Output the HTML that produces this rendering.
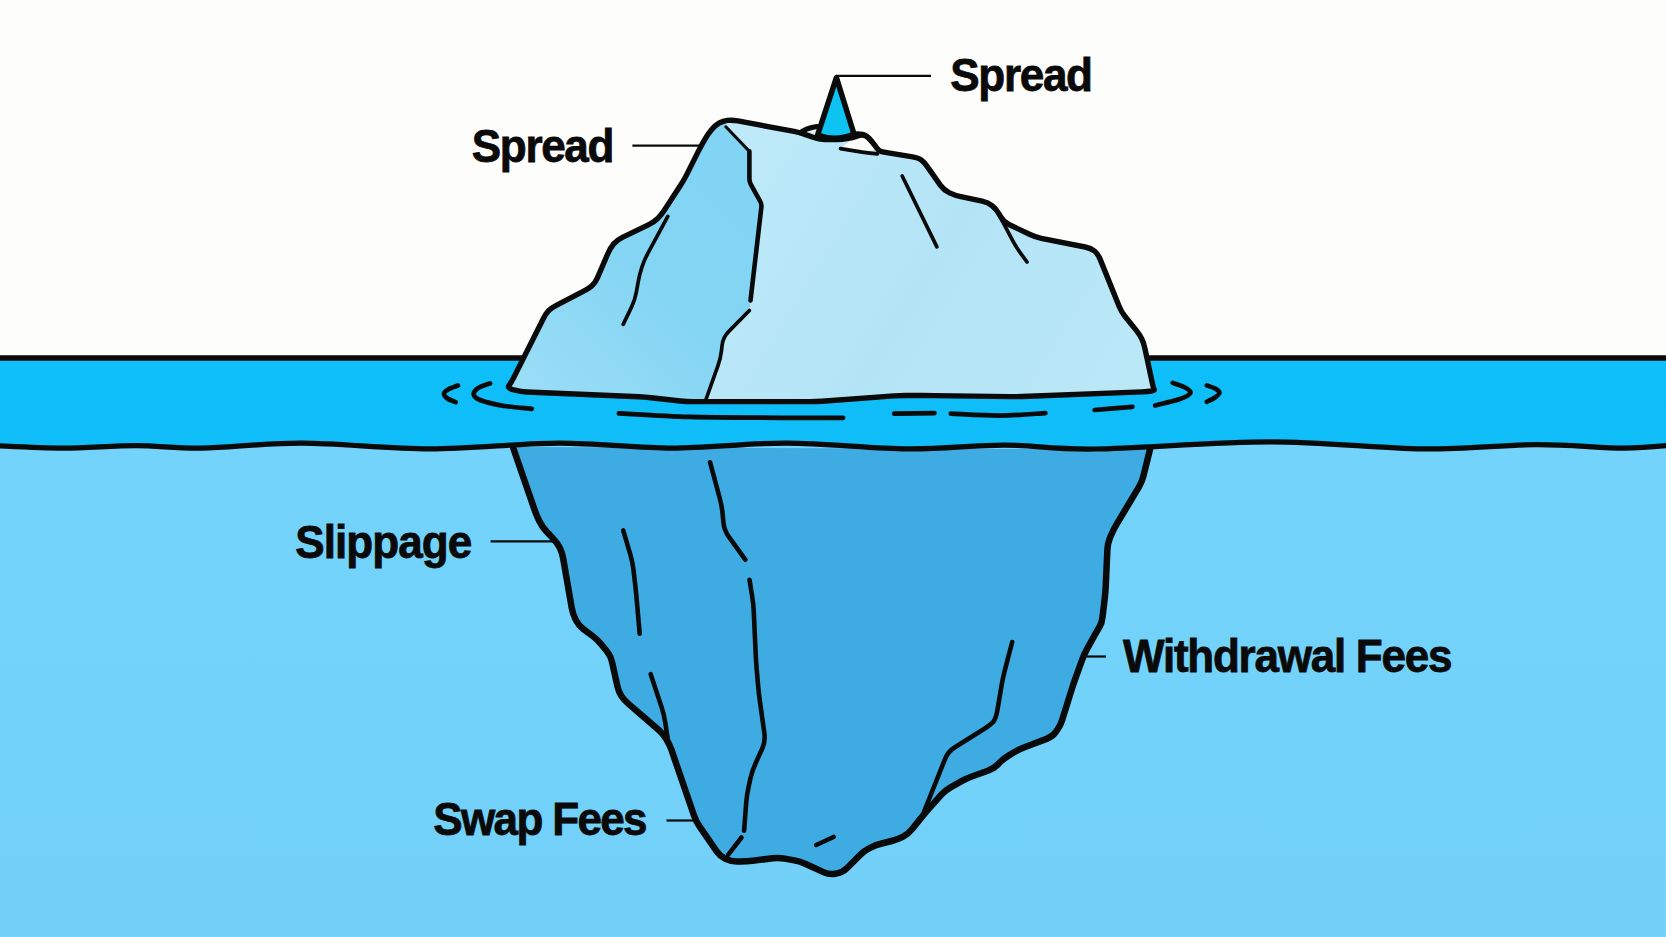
<!DOCTYPE html>
<html><head><meta charset="utf-8"><style>
html,body{margin:0;padding:0;width:1666px;height:937px;overflow:hidden;background:#fdfdfb;font-family:"Liberation Sans",sans-serif}
svg{display:block}
</style></head><body>
<svg width="1666" height="937" viewBox="0 0 1666 937">
<defs>
 <linearGradient id="gUnder" x1="0" y1="0" x2="0" y2="1">
  <stop offset="0" stop-color="#73d3fb"/><stop offset="1" stop-color="#73d1f9"/>
 </linearGradient>
 <linearGradient id="gLeft" x1="520" y1="390" x2="745" y2="170" gradientUnits="userSpaceOnUse">
  <stop offset="0" stop-color="#9bddf6"/><stop offset="0.55" stop-color="#84d5f4"/><stop offset="1" stop-color="#82d4f4"/>
 </linearGradient>
 <linearGradient id="gRight" x1="760" y1="150" x2="1150" y2="390" gradientUnits="userSpaceOnUse">
  <stop offset="0" stop-color="#bde9f8"/><stop offset="0.45" stop-color="#b3e4f6"/><stop offset="1" stop-color="#bbe8f7"/>
 </linearGradient>
 <linearGradient id="gBand" x1="0" y1="0" x2="0" y2="1">
  <stop offset="0" stop-color="#0ebff9"/><stop offset="1" stop-color="#10bdf8"/>
 </linearGradient>
</defs>
<rect x="0" y="0" width="1666" height="937" fill="#fdfdfb"/>
<rect x="0" y="440" width="1666" height="497" fill="url(#gUnder)"/>
<path d="M-10,358 L1676,358 L1676,444.8 1676.0,444.8 C1667.3,445.4 1647.3,448.1 1624.0,448.1 C1600.7,448.1 1569.7,444.5 1536.0,444.6 C1502.3,444.7 1466.3,449.4 1422.0,448.9 C1377.7,448.4 1324.5,441.8 1270.0,441.8 C1215.5,441.8 1139.3,448.4 1095.0,449.0 C1050.7,449.6 1035.2,445.1 1004.0,445.1 C972.8,445.1 944.3,449.2 908.0,448.9 C871.7,448.6 825.3,443.2 786.0,443.1 C746.7,443.0 709.8,448.1 672.0,448.1 C634.2,448.1 599.3,443.0 559.0,443.1 C518.7,443.2 472.8,448.9 430.0,448.9 C387.2,448.9 340.0,443.2 302.0,443.1 C264.0,443.0 229.7,447.7 202.0,448.1 C174.3,448.5 159.2,445.6 136.0,445.6 C112.8,445.6 87.3,448.1 63.0,448.1 C38.7,448.1 2.2,445.9 -10.0,445.5 Z" fill="url(#gBand)"/>
<path d="M518.9,447.0 Q512.9,447.0 514.9,452.7 L534.4,509.4 Q536.4,515.1 539.0,520.5 L539.6,521.5 Q542.2,526.9 546.3,531.3 L553.4,538.9 Q557.5,543.3 559.9,548.0 L559.9,548.0 Q562.2,552.7 563.2,558.6 L571.7,607.8 Q572.7,613.7 575.4,619.1 L575.9,620.1 Q578.6,625.5 583.4,629.1 L592.6,636.0 Q597.4,639.6 601.2,644.3 L606.9,651.3 Q610.7,656.0 612.0,661.9 L617.4,686.1 Q618.7,692.0 621.4,696.0 L621.4,696.0 Q624.0,700.0 628.5,703.9 L658.2,729.5 Q662.7,733.4 665.9,738.5 L666.2,738.9 Q669.4,744.0 671.4,749.7 L694.1,815.8 Q696.1,821.5 699.5,826.4 L716.7,851.3 Q720.1,856.2 725.5,858.9 L725.5,858.9 Q730.8,861.5 736.8,861.5 L740.8,861.5 Q746.8,861.5 752.8,860.8 L772.8,858.2 Q778.8,857.5 784.7,858.6 L794.3,860.4 Q800.2,861.5 805.7,864.0 L824.0,872.4 Q829.5,874.9 835.4,873.7 L837.0,873.4 Q842.9,872.2 847.1,867.9 L860.0,855.1 Q864.2,850.8 869.6,848.1 L870.6,847.6 Q876.0,844.9 881.8,843.5 L891.6,841.0 Q897.4,839.6 902.7,836.9 L902.7,836.9 Q908.0,834.2 911.8,829.5 L920.3,818.9 Q924.1,814.2 928.1,809.7 L941.4,794.7 Q945.4,790.2 950.6,787.3 L961.6,781.1 Q966.8,778.2 972.5,776.2 L987.8,770.8 Q993.5,768.8 997.7,764.6 L1000.0,762.3 Q1004.2,758.1 1009.4,755.1 L1015.0,751.8 Q1020.2,748.8 1025.8,746.7 L1046.6,738.9 Q1052.2,736.8 1055.8,732.0 L1056.6,730.9 Q1060.2,726.1 1062.0,720.4 L1071.8,689.1 Q1073.6,683.4 1075.6,677.8 L1082.2,659.6 Q1084.2,654.0 1087.1,648.8 L1094.7,635.2 Q1097.6,630.0 1099.7,626.5 L1099.7,626.5 Q1101.8,623.1 1102.5,617.1 L1104.7,598.6 Q1105.4,592.6 1105.7,586.6 L1107.4,549.3 Q1107.7,543.3 1110.0,537.8 L1111.3,534.7 Q1113.6,529.2 1116.7,524.1 L1138.7,487.4 Q1141.8,482.3 1143.3,476.5 L1148.5,455.2 Q1150.0,449.4 1144.0,449.4 Z" fill="#3eace2"/>
<path d="M623.2,530.4 L630.3,554.4 Q632.6,562.1 633.5,570.0 L635.2,584.7 Q636.1,592.6 636.8,600.6 L639.7,633.7" fill="none" stroke="#0a0a0a" stroke-width="4.6" stroke-linecap="round" stroke-linejoin="round"/><path d="M710.1,462.3 L719.7,498.0 Q721.8,505.7 722.6,513.7 L723.4,522.4 Q724.2,530.4 728.9,536.9 L745.3,559.7" fill="none" stroke="#0a0a0a" stroke-width="4.6" stroke-linecap="round" stroke-linejoin="round"/><path d="M749.5,579.7 L752.2,596.5 Q753.5,604.4 753.8,612.4 L755.6,652.0 Q755.9,660.0 756.6,668.0 L758.1,685.4 Q758.8,693.4 759.9,701.3 L764.4,733.5 Q765.5,741.4 762.2,748.7 L755.5,763.5 Q752.2,770.8 750.4,778.6 L748.6,787.0 Q746.8,794.8 746.2,802.8 L744.1,830.8" fill="none" stroke="#0a0a0a" stroke-width="4.6" stroke-linecap="round" stroke-linejoin="round"/><path d="M741.5,837.5 L728.1,854.8" fill="none" stroke="#0a0a0a" stroke-width="4.6" stroke-linecap="round" stroke-linejoin="round"/><path d="M816.2,845.0 L833.6,837.0" fill="none" stroke="#0a0a0a" stroke-width="4.6" stroke-linecap="round" stroke-linejoin="round"/><path d="M650.7,674.2 L661.6,707.1 Q664.1,714.7 665.3,722.6 L668.1,741.4" fill="none" stroke="#0a0a0a" stroke-width="4.6" stroke-linecap="round" stroke-linejoin="round"/><path d="M1012.2,642.0 L1004.8,670.3 Q1002.8,678.0 1001.5,685.9 L997.4,710.2 Q996.1,718.1 993.5,721.5 L993.5,721.5 Q990.8,724.8 984.0,729.0 L954.9,747.3 Q948.1,751.5 945.1,758.9 L924.1,811.5" fill="none" stroke="#0a0a0a" stroke-width="4.6" stroke-linecap="round" stroke-linejoin="round"/><path d="M512.9,447.0 L534.4,509.4 Q536.4,515.1 539.0,520.5 L539.6,521.5 Q542.2,526.9 546.3,531.3 L553.4,538.9 Q557.5,543.3 559.9,548.0 L559.9,548.0 Q562.2,552.7 563.2,558.6 L571.7,607.8 Q572.7,613.7 575.4,619.1 L575.9,620.1 Q578.6,625.5 583.4,629.1 L592.6,636.0 Q597.4,639.6 601.2,644.3 L606.9,651.3 Q610.7,656.0 612.0,661.9 L617.4,686.1 Q618.7,692.0 621.4,696.0 L621.4,696.0 Q624.0,700.0 628.5,703.9 L658.2,729.5 Q662.7,733.4 665.9,738.5 L666.2,738.9 Q669.4,744.0 671.4,749.7 L694.1,815.8 Q696.1,821.5 699.5,826.4 L716.7,851.3 Q720.1,856.2 725.5,858.9 L725.5,858.9 Q730.8,861.5 736.8,861.5 L740.8,861.5 Q746.8,861.5 752.8,860.8 L772.8,858.2 Q778.8,857.5 784.7,858.6 L794.3,860.4 Q800.2,861.5 805.7,864.0 L824.0,872.4 Q829.5,874.9 835.4,873.7 L837.0,873.4 Q842.9,872.2 847.1,867.9 L860.0,855.1 Q864.2,850.8 869.6,848.1 L870.6,847.6 Q876.0,844.9 881.8,843.5 L891.6,841.0 Q897.4,839.6 902.7,836.9 L902.7,836.9 Q908.0,834.2 911.8,829.5 L920.3,818.9 Q924.1,814.2 928.1,809.7 L941.4,794.7 Q945.4,790.2 950.6,787.3 L961.6,781.1 Q966.8,778.2 972.5,776.2 L987.8,770.8 Q993.5,768.8 997.7,764.6 L1000.0,762.3 Q1004.2,758.1 1009.4,755.1 L1015.0,751.8 Q1020.2,748.8 1025.8,746.7 L1046.6,738.9 Q1052.2,736.8 1055.8,732.0 L1056.6,730.9 Q1060.2,726.1 1062.0,720.4 L1071.8,689.1 Q1073.6,683.4 1075.6,677.8 L1082.2,659.6 Q1084.2,654.0 1087.1,648.8 L1094.7,635.2 Q1097.6,630.0 1099.7,626.5 L1099.7,626.5 Q1101.8,623.1 1102.5,617.1 L1104.7,598.6 Q1105.4,592.6 1105.7,586.6 L1107.4,549.3 Q1107.7,543.3 1110.0,537.8 L1111.3,534.7 Q1113.6,529.2 1116.7,524.1 L1138.7,487.4 Q1141.8,482.3 1143.3,476.5 L1150.0,449.4" fill="none" stroke="#0a0a0a" stroke-width="6.5" stroke-linecap="round" stroke-linejoin="round"/><path d="M-10,358 L1676,358" stroke="#0a0a0a" stroke-width="5.5"/><path d="M-10.0,445.5 C2.2,445.9 38.7,448.1 63.0,448.1 C87.3,448.1 112.8,445.6 136.0,445.6 C159.2,445.6 174.3,448.5 202.0,448.1 C229.7,447.7 264.0,443.0 302.0,443.1 C340.0,443.2 387.2,448.9 430.0,448.9 C472.8,448.9 518.7,443.2 559.0,443.1 C599.3,443.0 634.2,448.1 672.0,448.1 C709.8,448.1 746.7,443.0 786.0,443.1 C825.3,443.2 871.7,448.6 908.0,448.9 C944.3,449.2 972.8,445.1 1004.0,445.1 C1035.2,445.1 1050.7,449.6 1095.0,449.0 C1139.3,448.4 1215.5,441.8 1270.0,441.8 C1324.5,441.8 1377.7,448.4 1422.0,448.9 C1466.3,449.4 1502.3,444.7 1536.0,444.6 C1569.7,444.5 1600.7,448.1 1624.0,448.1 C1647.3,448.1 1667.3,445.4 1676.0,444.8" fill="none" stroke="#0a0a0a" stroke-width="5.2"/><path d="M458.0,385.5 C456.5,386.1 451.3,387.7 449.0,389.0 C446.7,390.3 444.2,391.9 444.0,393.5 C443.8,395.1 445.6,397.1 447.5,398.5 C449.4,399.9 454.3,401.5 455.7,402.1" fill="none" stroke="#0a0a0a" stroke-width="4.7" stroke-linecap="round" stroke-linejoin="round"/><path d="M490.0,383.4 C488.2,384.1 481.7,385.8 479.0,387.5 C476.3,389.2 474.0,391.7 473.7,393.5 C473.4,395.3 474.9,397.1 477.0,398.5 C479.1,399.9 481.5,400.8 486.0,402.0 C490.5,403.2 496.4,404.9 504.0,406.0 C511.6,407.1 527.2,408.3 531.8,408.8" fill="none" stroke="#0a0a0a" stroke-width="4.7" stroke-linecap="round" stroke-linejoin="round"/><path d="M618.9,413.3 C630.8,413.9 663.1,416.1 690.0,416.9 C716.9,417.6 754.5,417.6 780.0,417.8 C805.5,418.0 832.6,417.8 843.1,417.8" fill="none" stroke="#0a0a0a" stroke-width="4.7" stroke-linecap="round" stroke-linejoin="round"/><path d="M894.2,413.6 C900.9,413.5 927.8,413.2 934.5,413.1" fill="none" stroke="#0a0a0a" stroke-width="4.7" stroke-linecap="round" stroke-linejoin="round"/><path d="M950.9,413.6 C959.1,413.9 984.2,415.7 1000.0,415.6 C1015.8,415.5 1037.8,413.5 1045.4,413.1" fill="none" stroke="#0a0a0a" stroke-width="4.7" stroke-linecap="round" stroke-linejoin="round"/><path d="M1094.6,410.0 C1100.9,409.5 1126.1,407.3 1132.4,406.8" fill="none" stroke="#0a0a0a" stroke-width="4.7" stroke-linecap="round" stroke-linejoin="round"/><path d="M1155.1,405.5 C1159.2,404.4 1174.1,401.1 1180.0,399.0 C1185.9,396.9 1189.7,395.0 1190.4,393.0 C1191.1,391.0 1187.0,388.7 1184.0,387.0 C1181.0,385.3 1174.6,383.6 1172.7,382.9" fill="none" stroke="#0a0a0a" stroke-width="4.7" stroke-linecap="round" stroke-linejoin="round"/><path d="M1206.8,385.4 C1208.3,386.0 1213.9,387.7 1216.0,389.0 C1218.1,390.3 1219.6,391.6 1219.4,393.0 C1219.2,394.4 1217.1,396.0 1215.0,397.5 C1212.9,399.0 1208.2,401.1 1206.8,401.8" fill="none" stroke="#0a0a0a" stroke-width="4.7" stroke-linecap="round" stroke-linejoin="round"/><path d="M512.8,389.6 Q507.0,388.0 509.0,385.5 L509.0,385.5 Q511.0,383.0 513.7,377.6 L543.0,319.2 Q545.7,313.8 548.4,310.9 L548.4,310.9 Q551.0,308.0 556.3,305.3 L582.7,291.7 Q588.0,289.0 591.5,286.1 L591.5,286.1 Q595.0,283.3 597.4,277.8 L607.9,253.5 Q610.3,248.0 613.6,244.0 L613.6,244.0 Q617.0,240.0 622.4,237.4 L648.3,224.9 Q653.7,222.3 657.4,218.8 L657.4,218.8 Q661.0,215.2 664.3,210.2 L680.7,185.0 Q684.0,180.0 686.7,174.6 L698.3,151.4 Q701.0,146.0 704.0,140.8 L705.0,139.2 Q708.0,134.0 711.5,129.8 L711.5,129.8 Q715.0,125.5 719.0,123.2 L719.0,123.2 Q723.0,121.0 727.5,120.4 L727.5,120.4 Q732.0,119.8 737.9,120.9 L794.1,131.4 Q800.0,132.5 805.6,134.6 L813.1,137.2 Q818.7,139.3 824.7,139.5 L830.0,139.6 Q836.0,139.8 842.0,139.2 L847.0,138.6 Q853.0,138.0 857.5,136.0 L857.5,136.0 Q862.0,134.0 865.5,135.8 L865.5,135.8 Q869.0,137.5 872.5,142.4 L874.0,144.3 Q877.5,149.2 879.2,150.4 L879.2,150.4 Q881.0,151.6 886.9,152.6 L912.6,156.8 Q918.5,157.8 921.2,159.9 L921.2,159.9 Q924.0,162.0 927.5,166.9 L940.3,185.1 Q943.8,190.0 949.2,192.6 L949.6,192.9 Q955.0,195.5 960.9,196.7 L982.1,201.2 Q988.0,202.4 992.3,205.9 L992.3,205.9 Q996.6,209.4 999.5,214.7 L1000.6,216.6 Q1003.5,221.9 1008.9,224.5 L1030.0,234.5 Q1035.4,237.1 1041.3,238.3 L1085.1,247.0 Q1091.0,248.2 1094.5,251.0 L1094.5,251.0 Q1097.9,253.8 1100.2,259.4 L1119.2,306.4 Q1121.5,312.0 1125.3,316.7 L1135.7,329.6 Q1139.5,334.3 1141.6,338.5 L1141.6,338.5 Q1143.7,342.6 1144.9,348.5 L1152.2,382.5 Q1153.4,388.4 1154.2,389.4 L1154.2,389.4 Q1155.0,390.4 1151.5,391.0 L1151.5,391.0 Q1148.0,391.7 1142.0,391.9 L1022.5,396.5 Q1016.5,396.7 1010.5,396.6 L934.2,395.6 Q928.2,395.5 922.2,395.5 L906.0,395.5 Q900.0,395.5 894.0,395.9 L822.0,401.2 Q816.0,401.6 810.0,401.6 L711.4,401.6 Q705.4,401.6 699.4,401.6 L692.4,401.6 Q686.4,401.6 680.4,401.0 L651.0,397.7 Q645.0,397.1 639.0,396.8 L526.8,392.0 Q520.8,391.7 515.0,390.1 Z" fill="url(#gRight)"/><path d="M706.4,398.8 Q705.4,401.6 702.4,401.6 L689.4,401.6 Q686.4,401.6 683.4,401.3 L648.0,397.4 Q645.0,397.1 642.0,397.0 L523.8,391.8 Q520.8,391.7 517.9,390.9 L509.9,388.8 Q507.0,388.0 508.9,385.7 L509.1,385.3 Q511.0,383.0 512.3,380.3 L544.4,316.5 Q545.7,313.8 547.7,311.6 L549.0,310.2 Q551.0,308.0 553.7,306.6 L585.3,290.4 Q588.0,289.0 590.3,287.1 L592.7,285.2 Q595.0,283.3 596.2,280.5 L609.1,250.8 Q610.3,248.0 612.2,245.7 L615.1,242.3 Q617.0,240.0 619.7,238.7 L651.0,223.6 Q653.7,222.3 655.9,220.2 L658.8,217.3 Q661.0,215.2 662.6,212.7 L682.4,182.5 Q684.0,180.0 685.3,177.3 L699.7,148.7 Q701.0,146.0 702.5,143.4 L706.5,136.6 Q708.0,134.0 709.9,131.7 L713.1,127.8 Q715.0,125.5 717.6,124.0 L720.4,122.5 Q723.0,121.0 724.4,122.5 L724.4,122.5 Q725.8,124.0 727.8,126.3 L747.4,149.1 Q749.4,151.4 749.4,154.4 L749.4,178.7 Q749.4,181.7 750.8,184.3 L760.3,201.5 Q761.7,204.1 761.4,207.1 L750.8,297.4 Q750.5,300.4 750.2,303.4 L749.7,307.5 Q749.4,310.5 747.3,312.6 L725.1,335.2 Q723.0,337.3 722.7,340.3 L720.9,355.4 Q720.6,358.4 719.6,361.2 Z" fill="url(#gLeft)"/><path d="M853,138 L862,134 L869,137.5 L877.5,149.2 L862.2,152.2 L840.5,148.6 Z" fill="#fbfbf8"/><path d="M800,132.8 Q806,128 817,126.5 L818.7,139.3 Z" fill="#dff0ef"/><path d="M512.8,389.6 Q507.0,388.0 509.0,385.5 L509.0,385.5 Q511.0,383.0 513.7,377.6 L543.0,319.2 Q545.7,313.8 548.4,310.9 L548.4,310.9 Q551.0,308.0 556.3,305.3 L582.7,291.7 Q588.0,289.0 591.5,286.1 L591.5,286.1 Q595.0,283.3 597.4,277.8 L607.9,253.5 Q610.3,248.0 613.6,244.0 L613.6,244.0 Q617.0,240.0 622.4,237.4 L648.3,224.9 Q653.7,222.3 657.4,218.8 L657.4,218.8 Q661.0,215.2 664.3,210.2 L680.7,185.0 Q684.0,180.0 686.7,174.6 L698.3,151.4 Q701.0,146.0 704.0,140.8 L705.0,139.2 Q708.0,134.0 711.5,129.8 L711.5,129.8 Q715.0,125.5 719.0,123.2 L719.0,123.2 Q723.0,121.0 727.5,120.4 L727.5,120.4 Q732.0,119.8 737.9,120.9 L794.1,131.4 Q800.0,132.5 805.6,134.6 L813.1,137.2 Q818.7,139.3 824.7,139.5 L830.0,139.6 Q836.0,139.8 842.0,139.2 L847.0,138.6 Q853.0,138.0 857.5,136.0 L857.5,136.0 Q862.0,134.0 865.5,135.8 L865.5,135.8 Q869.0,137.5 872.5,142.4 L874.0,144.3 Q877.5,149.2 879.2,150.4 L879.2,150.4 Q881.0,151.6 886.9,152.6 L912.6,156.8 Q918.5,157.8 921.2,159.9 L921.2,159.9 Q924.0,162.0 927.5,166.9 L940.3,185.1 Q943.8,190.0 949.2,192.6 L949.6,192.9 Q955.0,195.5 960.9,196.7 L982.1,201.2 Q988.0,202.4 992.3,205.9 L992.3,205.9 Q996.6,209.4 999.5,214.7 L1000.6,216.6 Q1003.5,221.9 1008.9,224.5 L1030.0,234.5 Q1035.4,237.1 1041.3,238.3 L1085.1,247.0 Q1091.0,248.2 1094.5,251.0 L1094.5,251.0 Q1097.9,253.8 1100.2,259.4 L1119.2,306.4 Q1121.5,312.0 1125.3,316.7 L1135.7,329.6 Q1139.5,334.3 1141.6,338.5 L1141.6,338.5 Q1143.7,342.6 1144.9,348.5 L1152.2,382.5 Q1153.4,388.4 1154.2,389.4 L1154.2,389.4 Q1155.0,390.4 1151.5,391.0 L1151.5,391.0 Q1148.0,391.7 1142.0,391.9 L1022.5,396.5 Q1016.5,396.7 1010.5,396.6 L934.2,395.6 Q928.2,395.5 922.2,395.5 L906.0,395.5 Q900.0,395.5 894.0,395.9 L822.0,401.2 Q816.0,401.6 810.0,401.6 L711.4,401.6 Q705.4,401.6 699.4,401.6 L692.4,401.6 Q686.4,401.6 680.4,401.0 L651.0,397.7 Q645.0,397.1 639.0,396.8 L526.8,392.0 Q520.8,391.7 515.0,390.1 Z" fill="none" stroke="#0a0a0a" stroke-width="5.4" stroke-linejoin="round"/><path d="M800,132.8 Q806,128 817,126.5" fill="none" stroke="#0a0a0a" stroke-width="5" stroke-linecap="round"/><path d="M853,134 Q862,133 866,135.5 Q870,138 877.5,149.2" fill="none" stroke="#0a0a0a" stroke-width="4.7" stroke-linecap="round" stroke-linejoin="round"/><path d="M667.8,216.4 L648.1,252.8 Q644.3,259.8 642.0,266.9 L642.0,266.9 Q639.6,274.0 638.2,281.9 L636.4,291.8 Q635.0,299.7 631.6,306.9 L623.2,324.4" fill="none" stroke="#0a0a0a" stroke-width="3.7" stroke-linecap="round" stroke-linejoin="round"/><path d="M749.4,310.5 L728.6,331.6 Q723.0,337.3 722.1,345.2 L721.5,350.5 Q720.6,358.4 717.9,365.9 L705.4,401.0" fill="none" stroke="#0a0a0a" stroke-width="3.7" stroke-linecap="round" stroke-linejoin="round"/><path d="M902.2,176.0 L936.9,246.9" fill="none" stroke="#0a0a0a" stroke-width="3.7" stroke-linecap="round" stroke-linejoin="round"/><path d="M1002.0,220.5 L1012.3,239.8 Q1016.0,246.9 1020.7,253.4 L1027.0,262.0" fill="none" stroke="#0a0a0a" stroke-width="3.7" stroke-linecap="round" stroke-linejoin="round"/><path d="M840.5,148.6 L854.3,150.9 Q862.2,152.2 869.9,153.1 L877.5,153.9" fill="none" stroke="#0a0a0a" stroke-width="3.7" stroke-linecap="round" stroke-linejoin="round"/><path d="M749.4,151.4 L749.4,178.7 Q749.4,181.7 750.8,184.3 L760.3,201.5 Q761.7,204.1 761.4,207.1 L750.5,300.4" fill="none" stroke="#0a0a0a" stroke-width="4.6" stroke-linecap="round" stroke-linejoin="round"/><path d="M725.8,126.8 L749.4,151.4" fill="none" stroke="#0a0a0a" stroke-width="3" stroke-linecap="round"/><path d="M836.4,77.6 L817.6,135.1 Q836,142 854,134 Z" fill="#0cc3f2" stroke="#0a0a0a" stroke-width="5.5" stroke-linejoin="round"/><path d="M836.0,75.9 L931.0,75.9" stroke="#0a0a0a" stroke-width="2.2"/><path d="M632.4,145.6 L701.0,145.6" stroke="#0a0a0a" stroke-width="2.2"/><path d="M490.6,541.4 L553.0,541.4" stroke="#0a0a0a" stroke-width="2.2"/><path d="M1085.5,656.5 L1106.0,656.5" stroke="#0a0a0a" stroke-width="2.2"/><path d="M666.5,820.5 L697.0,820.5" stroke="#0a0a0a" stroke-width="2.2"/><text transform="translate(950.2,91.3) scale(0.95,1)" font-family="Liberation Sans" font-weight="bold" font-size="46.4" letter-spacing="-1.39" stroke="#0a0a0a" stroke-width="0.8" fill="#0a0a0a">Spread</text><text transform="translate(471.8,161.5) scale(0.95,1)" font-family="Liberation Sans" font-weight="bold" font-size="46.4" letter-spacing="-1.43" stroke="#0a0a0a" stroke-width="0.8" fill="#0a0a0a">Spread</text><text transform="translate(295.2,558.0) scale(0.95,1)" font-family="Liberation Sans" font-weight="bold" font-size="46.4" letter-spacing="-0.99" stroke="#0a0a0a" stroke-width="0.8" fill="#0a0a0a">Slippage</text><text transform="translate(1123.0,672.3) scale(0.95,1)" font-family="Liberation Sans" font-weight="bold" font-size="46.4" letter-spacing="-1.35" stroke="#0a0a0a" stroke-width="0.8" fill="#0a0a0a">Withdrawal Fees</text><text transform="translate(433.3,834.5) scale(0.95,1)" font-family="Liberation Sans" font-weight="bold" font-size="46.4" letter-spacing="-1.79" stroke="#0a0a0a" stroke-width="0.8" fill="#0a0a0a">Swap Fees</text></svg>
</body></html>
